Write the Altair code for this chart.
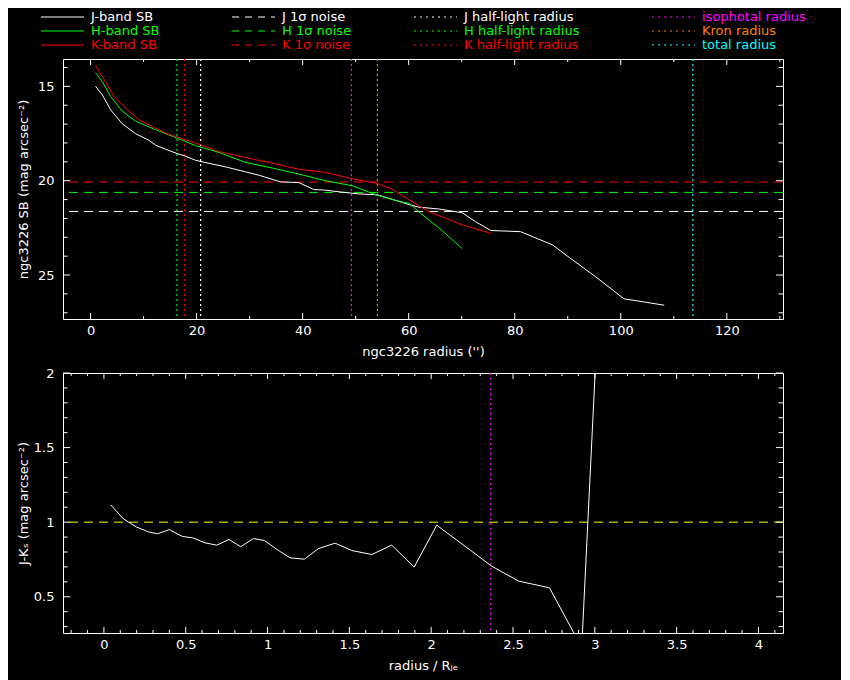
import altair as alt
import pandas as pd

# ---------------- data ----------------
j_radius = [0.94, 2.2, 3.77, 5.97, 8.5, 11.0, 12.3, 14.15, 16.3, 17.9, 19.8, 21.7, 25.5, 29.2, 31.75, 35.8,
            39.3, 42.1, 44.3, 47.2, 50.6, 54.1, 58.2, 60.1, 61.9, 65.7, 70.1, 72.6, 75.5, 81.1, 87.1, 90.25,
            95.3, 100.6, 104.7, 108.2]
j_sb = [15.0, 15.44, 16.24, 16.98, 17.51, 17.86, 18.12, 18.33, 18.56, 18.7, 18.92, 19.04, 19.27, 19.53, 19.71,
        20.06, 20.1, 20.47, 20.5, 20.6, 20.7, 20.75, 21.1, 21.27, 21.4, 21.5, 21.7, 22.17, 22.64, 22.7, 23.4,
        24.06, 25.1, 26.26, 26.44, 26.6]

h_radius = [0.94, 2.2, 3.77, 5.97, 8.5, 12.3, 16.3, 19.8, 24.2, 29.2, 34.3, 39.3, 44.3, 49.4, 53.8, 58.2,
            60.1, 61.9, 65.7, 70.1]
h_sb = [14.28, 14.74, 15.53, 16.32, 16.85, 17.3, 17.74, 18.14, 18.5, 19.03, 19.33, 19.65, 20.0, 20.27, 20.75,
        21.1, 21.2, 21.65, 22.5, 23.6]

k_radius = [0.94, 2.8, 4.4, 6.6, 9.1, 11.6, 14.15, 17.9, 20.4, 24.2, 29.2, 34.3, 39.3, 44.3, 49.4, 53.8,
            56.9, 60.1, 63.8, 70.1, 75.5]
k_sb = [13.9, 14.75, 15.53, 16.15, 16.77, 17.12, 17.48, 17.83, 18.06, 18.45, 18.77, 19.07, 19.39, 19.56, 19.9,
        20.13, 20.45, 21.02, 21.64, 22.34, 22.79]

noise_band = ["J", "H", "K"]
noise_sb = [21.63, 20.62, 20.07]

halflight_band = ["J", "H", "K"]
halflight_radius = [20.75, 16.3, 17.7]

aperture_kind = ["iso", "kron", "total"]
aperture_radius = [49.2, 54.1, 113.6]

color_rnorm = [0.042, 0.119, 0.2, 0.272, 0.327, 0.4, 0.48, 0.543, 0.619, 0.69, 0.765, 0.836, 0.914, 0.981,
               1.067, 1.138, 1.226, 1.311, 1.413, 1.515, 1.637, 1.759, 1.896, 2.034, 2.37, 2.534, 2.723,
               2.92, 3.04]
color_jk = [1.116, 1.022, 0.967, 0.935, 0.922, 0.95, 0.904, 0.895, 0.861, 0.846, 0.884, 0.835, 0.89, 0.877,
            0.81, 0.761, 0.752, 0.823, 0.859, 0.81, 0.783, 0.846, 0.699, 0.98, 0.705, 0.605, 0.56, 0.16, 2.86]

iso_rnorm = [2.364]
color_ref = [1.0]

legend_label = ["J-band SB", "H-band SB", "K-band SB",
                "J 1σ noise", "H 1σ noise", "K 1σ noise",
                "J half-light radius", "H half-light radius", "K half-light radius",
                "isophotal radius", "Kron radius", "total radius"]
legend_key = ["J", "H", "K", "J", "H", "K", "J", "H", "K", "iso", "kron", "total"]
legend_col = [0, 0, 0, 1, 1, 1, 2, 2, 2, 3, 3, 3]
legend_row = [0, 1, 2, 0, 1, 2, 0, 1, 2, 0, 1, 2]

top_x_major = [0, 20, 40, 60, 80, 100, 120]
top_x_minor = [10, 30, 50, 70, 90, 110, 130]
top_y_major = [15, 20, 25]
top_y_minor = [14, 16, 17, 18, 19, 21, 22, 23, 24, 26, 27]
bot_x_major = [0, 0.5, 1, 1.5, 2, 2.5, 3, 3.5, 4]
bot_x_minor = [-0.2, -0.1, 0.1, 0.2, 0.3, 0.4, 0.6, 0.7, 0.8, 0.9, 1.1, 1.2, 1.3, 1.4, 1.6, 1.7, 1.8, 1.9,
               2.1, 2.2, 2.3, 2.4, 2.6, 2.7, 2.8, 2.9, 3.1, 3.2, 3.3, 3.4, 3.6, 3.7, 3.8, 3.9, 4.1]
bot_y_major = [0.5, 1, 1.5, 2]
bot_y_minor = [0.3, 0.4, 0.6, 0.7, 0.8, 0.9, 1.1, 1.2, 1.3, 1.4, 1.6, 1.7, 1.8, 1.9]

# ---------------- styles ----------------
W, H = 720, 260
FONT = "DejaVu Sans"
FS = 13
color_scale = alt.Scale(
    domain=["J", "H", "K", "iso", "kron", "total", "ref"],
    range=["#ffffff", "#00ff00", "#ff0000", "#ff00ff", "#ff8000", "#00ffff", "#ffff00"],
)
DASH = [9, 6]
DOT = [2, 3]
LEG_X = [-22, 169, 351, 589]
LEG_LEN = 43
LEG_TXT = 50

profiles = pd.concat([
    pd.DataFrame({"band": "J", "r": j_radius, "sb": j_sb}),
    pd.DataFrame({"band": "H", "r": h_radius, "sb": h_sb}),
    pd.DataFrame({"band": "K", "r": k_radius, "sb": k_sb}),
])
noise = pd.DataFrame({"band": noise_band, "sb": noise_sb})
vlines = pd.concat([
    pd.DataFrame({"band": halflight_band, "r": halflight_radius}),
    pd.DataFrame({"band": aperture_kind, "r": aperture_radius}),
])
colors = pd.DataFrame({"r": color_rnorm, "c": color_jk})
legend_df = pd.DataFrame({"label": legend_label, "key": legend_key, "col": legend_col, "row": legend_row})


def make_axis(values, fmt, lp, tp, title):
    return alt.Axis(values=values, format=fmt, ticks=False, domain=False, grid=False,
                    labelPadding=lp, titlePadding=tp, title=title)


def tick_layers(xscale, yscale, xaxis, yaxis, xmaj, xmin, ymaj, ymin, xlen=(6, 3), ylen=(7, 4.5)):
    layers = []
    for vals, ln in ((xmaj, xlen[0]), (xmin, xlen[1])):
        d = pd.DataFrame({"v": vals})
        base = alt.Chart(d).mark_rule(color="white", strokeWidth=1)
        layers.append(base.encode(x=alt.X("v:Q", scale=xscale, axis=xaxis), y=alt.value(H), y2=alt.value(H - ln)))
        layers.append(base.encode(x=alt.X("v:Q", scale=xscale, axis=xaxis), y=alt.value(0), y2=alt.value(ln)))
    for vals, ln in ((ymaj, ylen[0]), (ymin, ylen[1])):
        d = pd.DataFrame({"v": vals})
        base = alt.Chart(d).mark_rule(color="white", strokeWidth=1)
        layers.append(base.encode(y=alt.Y("v:Q", scale=yscale, axis=yaxis), x=alt.value(0), x2=alt.value(ln)))
        layers.append(base.encode(y=alt.Y("v:Q", scale=yscale, axis=yaxis), x=alt.value(W), x2=alt.value(W - ln)))
    return layers


# ---------------- top panel ----------------
xs_top = alt.Scale(domain=[-5.2, 130.6], nice=False, zero=False)
ys_top = alt.Scale(domain=[13.55, 27.33], nice=False, zero=False, reverse=True)
xa_top = make_axis(top_x_major, "d", 5, 8, "ngc3226 radius ('')")
ya_top = make_axis(top_y_major, "d", 9, 7, "ngc3226 SB (mag arcsec⁻²)")

top_noise = alt.Chart(noise).mark_rule(strokeWidth=1, strokeDash=DASH).encode(
    y=alt.Y("sb:Q", scale=ys_top, axis=ya_top),
    color=alt.Color("band:N", scale=color_scale, legend=None),
)
top_vlines = alt.Chart(vlines).mark_rule(strokeWidth=1.2, strokeDash=DOT).encode(
    x=alt.X("r:Q", scale=xs_top, axis=xa_top),
    color=alt.Color("band:N", scale=color_scale, legend=None),
)
top_lines = alt.Chart(profiles).mark_line(strokeWidth=1, clip=True).encode(
    x=alt.X("r:Q", scale=xs_top, axis=xa_top),
    y=alt.Y("sb:Q", scale=ys_top, axis=ya_top),
    color=alt.Color("band:N", scale=color_scale, legend=None),
    detail="band:N",
)
top = alt.layer(
    top_noise, top_vlines, top_lines,
    *tick_layers(xs_top, ys_top, xa_top, ya_top, top_x_major, top_x_minor, top_y_major, top_y_minor),
).properties(width=W, height=H)

# ---------------- bottom panel ----------------
xs_bot = alt.Scale(domain=[-0.25, 4.15], nice=False, zero=False)
ys_bot = alt.Scale(domain=[0.257, 2.0], nice=False, zero=False)
xa_bot = make_axis(bot_x_major, "~g", 5, 8, "radius / Rⱼₑ")
ya_bot = make_axis(bot_y_major, "~g", 9, 3, "J-Kₛ (mag arcsec⁻²)")

bot_ref = alt.Chart(pd.DataFrame({"c": color_ref, "key": ["ref"]})).mark_rule(strokeWidth=1, strokeDash=DASH).encode(
    y=alt.Y("c:Q", scale=ys_bot, axis=ya_bot),
    color=alt.Color("key:N", scale=color_scale, legend=None),
)
bot_iso = alt.Chart(pd.DataFrame({"r": iso_rnorm, "key": ["iso"]})).mark_rule(strokeWidth=1.2, strokeDash=DOT).encode(
    x=alt.X("r:Q", scale=xs_bot, axis=xa_bot),
    color=alt.Color("key:N", scale=color_scale, legend=None),
)
bot_line = alt.Chart(colors).mark_line(strokeWidth=1, clip=True, color="white").encode(
    x=alt.X("r:Q", scale=xs_bot, axis=xa_bot),
    y=alt.Y("c:Q", scale=ys_bot, axis=ya_bot),
)
bottom = alt.layer(
    bot_ref, bot_iso, bot_line,
    *tick_layers(xs_bot, ys_bot, xa_bot, ya_bot, bot_x_major, bot_x_minor, bot_y_major, bot_y_minor),
).properties(width=W, height=H)

# ---------------- legend ----------------
leg_styles = [[1, 0], [7, 6], [2, 4], [2, 4]]
leg_y = alt.Y("row:O", scale=alt.Scale(type="point", padding=0.5), axis=None)
leg_layers = []
for i in range(4):
    base = alt.Chart(legend_df).transform_filter(alt.datum.col == i)
    leg_layers.append(base.mark_rule(strokeWidth=1.2 if i >= 2 else 1, strokeDash=leg_styles[i]).encode(
        x=alt.value(LEG_X[i]), x2=alt.value(LEG_X[i] + LEG_LEN), y=leg_y,
        color=alt.Color("key:N", scale=color_scale, legend=None)))
    leg_layers.append(base.mark_text(align="left", baseline="middle", font=FONT, fontSize=FS).encode(
        x=alt.value(LEG_X[i] + LEG_TXT), y=leg_y, text="label:N",
        color=alt.Color("key:N", scale=color_scale, legend=None)))
legend = alt.layer(*leg_layers).properties(width=W, height=42,
                                           view=alt.ViewBackground(stroke="transparent"))

panels = alt.vconcat(top, bottom, spacing=54, bounds="flush")
chart = alt.vconcat(legend, panels, spacing=7, bounds="flush").properties(
    padding={"left": 8, "top": 1, "right": 34, "bottom": 20},
    background="black",
).configure_view(stroke="white", strokeWidth=1).configure_axis(
    labelFont=FONT, labelFontSize=FS, labelColor="white",
    titleFont=FONT, titleFontSize=FS, titleColor="white", titleFontWeight="normal",
)

chart.save("out.html", embed_options={"renderer": "svg", "actions": False})
